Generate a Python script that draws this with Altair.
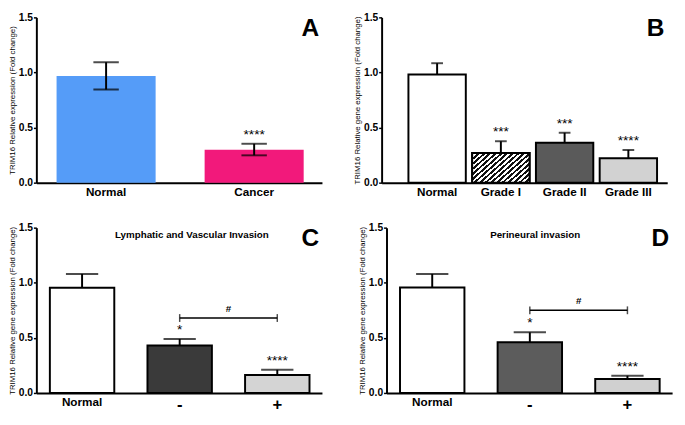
import altair as alt
import pandas as pd

# ---------------- data ----------------
A_cats = ["Normal", "Cancer"]
A_vals = [0.968, 0.298]
A_lo = [0.845, 0.248]
A_hi = [1.093, 0.353]
A_stars = ["", "****"]

B_cats = ["Normal", "Grade I", "Grade II", "Grade III"]
B_vals = [0.982, 0.269, 0.362, 0.221]
B_hi = [1.084, 0.376, 0.453, 0.297]
B_stars = ["", "***", "***", "****"]

C_cats = ["Normal", "-", "+"]
C_vals = [0.955, 0.43, 0.163]
C_hi = [1.08, 0.49, 0.21]
C_stars = ["", "*", "****"]
C_bracket = ["-", "+"]
C_bracket_y = 0.68

D_cats = ["Normal", "-", "+"]
D_vals = [0.957, 0.46, 0.127]
D_hi = [1.08, 0.55, 0.156]
D_stars = ["", "*", "****"]
D_bracket = ["-", "+"]
D_bracket_y = 0.75

Y_TICKS = [0, 0.5, 1.0, 1.5]

# ---------------- style ----------------
FONT = "Liberation Sans"
W, H = 292, 169

A_colors = ["#559cf8", "#f2197b"]
B_colors = ["#ffffff", "#ffffff", "#5a5a5a", "#d2d2d2"]
C_colors = ["#ffffff", "#3a3a3a", "#d4d4d4"]
D_colors = ["#ffffff", "#5c5c5c", "#d0d0d0"]


def stripe_gradient(n=16):
    stops = []
    for k in range(n):
        a, b, c = k / n, (k + 0.5) / n, (k + 1) / n
        stops += [
            alt.GradientStop(offset=a, color="#111111"),
            alt.GradientStop(offset=b, color="#111111"),
            alt.GradientStop(offset=b, color="#ffffff"),
            alt.GradientStop(offset=c, color="#ffffff"),
        ]
    return alt.LinearGradient(gradient="linear", stops=stops,
                              x1=0, y1=0, x2=1.18, y2=0.685)


def panel(cats, vals, hi, stars, colors, ytitle, letter, lo=None,
          pad_inner=0.34, pad_outer=0.13, align=0.5, cap=33,
          bar_stroke=True, bracket=None, bracket_y=None,
          title=None, title_x=None, stripe_cat=None):
    df = pd.DataFrame({"cat": cats, "val": vals, "hi": hi, "star": stars,
                       "lo": lo if lo is not None else vals})
    n = len(cats)
    step = W / (n - pad_inner + 2 * pad_outer)
    label_size = {"condition": {"test": "datum.value == '-' || datum.value == '+'",
                                "value": 17}, "value": 12}
    xs = alt.X("cat:N", sort=cats,
               scale=alt.Scale(domain=cats, paddingInner=pad_inner,
                               paddingOuter=pad_outer, align=align),
               axis=alt.Axis(title=None, ticks=False, labelAngle=0,
                             labelFontSize=label_size, labelFontWeight="bold",
                             labelPadding=4, labelColor="black",
                             domainColor="black", domainWidth=2))
    ys = alt.Y("val:Q", scale=alt.Scale(domain=[0, 1.5], nice=False, zero=True),
               axis=alt.Axis(values=Y_TICKS, format=".1f", title=ytitle,
                             titleFontSize=8, titleFontWeight="normal",
                             titleColor="black", titlePadding=2,
                             labelFontSize=10.5, labelFontWeight="bold",
                             labelColor="black", labelPadding=1,
                             tickSize=3, tickColor="black", tickWidth=1.5,
                             domainColor="black", domainWidth=2, grid=False))
    base = alt.Chart(df)
    bar_kw = dict(stroke="black", strokeWidth=2) if bar_stroke else dict(strokeWidth=0)
    bars = base.mark_bar(**bar_kw).encode(
        x=xs, y=ys,
        fill=alt.Fill("cat:N", scale=alt.Scale(domain=cats, range=colors), legend=None))
    layers = [bars]
    if stripe_cat is not None:
        layers.append(base.transform_filter(alt.datum.cat == stripe_cat)
                      .mark_bar(fill=stripe_gradient(), **bar_kw)
                      .encode(x=xs, y=ys))
    err = base.mark_rule(color="black", strokeWidth=2).encode(
        x=xs, y=alt.Y("lo:Q"), y2="hi:Q")
    caps_hi = base.mark_tick(color="black", size=cap, thickness=2,
                             orient="horizontal").encode(x=xs, y=alt.Y("hi:Q"))
    layers += [err, caps_hi]
    if lo is not None:
        layers.append(base.mark_tick(color="black", size=cap, thickness=2,
                                     orient="horizontal").encode(x=xs, y=alt.Y("lo:Q")))
    star_txt = base.mark_text(font=FONT, fontSize=14, baseline="alphabetic",
                              dy=-5, color="black").encode(
        x=xs, y=alt.Y("hi:Q"), text="star:N")
    layers.append(star_txt)
    if bracket is not None:
        bdf = pd.DataFrame({"cat": bracket, "val": [bracket_y] * len(bracket),
                            "lab": ["#", ""]})
        bb = alt.Chart(bdf)
        layers.append(bb.mark_line(color="black", strokeWidth=1.5).encode(x=xs, y=alt.Y("val:Q")))
        layers.append(bb.mark_tick(color="black", size=8, thickness=1.5,
                                   orient="vertical").encode(x=xs, y=alt.Y("val:Q")))
        layers.append(bb.mark_text(font=FONT, fontSize=10, fontWeight="bold",
                                   baseline="alphabetic",
                                   dy=-6, dx=step / 2, color="black").encode(
            x=xs, y=alt.Y("val:Q"), text="lab:N"))
    ldf = pd.DataFrame({"t": [letter]})
    layers.append(alt.Chart(ldf).mark_text(font=FONT, fontSize=25, fontWeight="bold",
                                           color="black", baseline="top").encode(
        text="t:N", x=alt.value(W - 12), y=alt.value(-1)))
    if title is not None:
        tdf = pd.DataFrame({"t": [title]})
        layers.append(alt.Chart(tdf).mark_text(font=FONT, fontSize=10, fontWeight="bold",
                                               color="black", baseline="middle").encode(
            text="t:N", x=alt.value(title_x), y=alt.value(8)))
    return alt.layer(*layers).properties(width=W, height=H)


pA = panel(A_cats, A_vals, A_hi, A_stars, A_colors,
           "TRIM16 Relative expression (Fold change)", "A", lo=A_lo,
           pad_inner=0.331, pad_outer=0.13, align=0.525, cap=26, bar_stroke=False)
pB = panel(B_cats, B_vals, B_hi, B_stars, B_colors,
           "TRIM16 Relative gene expression (Fold change)", "B",
           pad_inner=0.1, pad_outer=0.29, align=0.725, cap=12, stripe_cat="Grade I")
pC = panel(C_cats, C_vals, C_hi, C_stars, C_colors,
           "TRIM16 Relative gene expression (Fold change)", "C",
           pad_inner=0.34, pad_outer=0.133, align=0.52, cap=33,
           bracket=C_bracket, bracket_y=C_bracket_y,
           title="Lymphatic and Vascular Invasion", title_x=159)
pD = panel(D_cats, D_vals, D_hi, D_stars, D_colors,
           "TRIM16 Relative gene expression (Fold change)", "D",
           pad_inner=0.34, pad_outer=0.133, align=0.52, cap=33,
           bracket=D_bracket, bracket_y=D_bracket_y,
           title="Perineural invasion", title_x=152)

indep = dict(x="independent", y="independent", fill="independent")
chart = alt.vconcat(
    alt.hconcat(pA, pB, spacing=32).resolve_scale(**indep),
    alt.hconcat(pC, pD, spacing=32).resolve_scale(**indep),
    spacing=26,
).resolve_scale(**indep).properties(padding=0).configure_view(stroke=None).configure_axis(
    labelFont=FONT, titleFont=FONT).configure_text(font=FONT)

chart.save("out.html", embed_options={"renderer": "svg", "actions": False})
